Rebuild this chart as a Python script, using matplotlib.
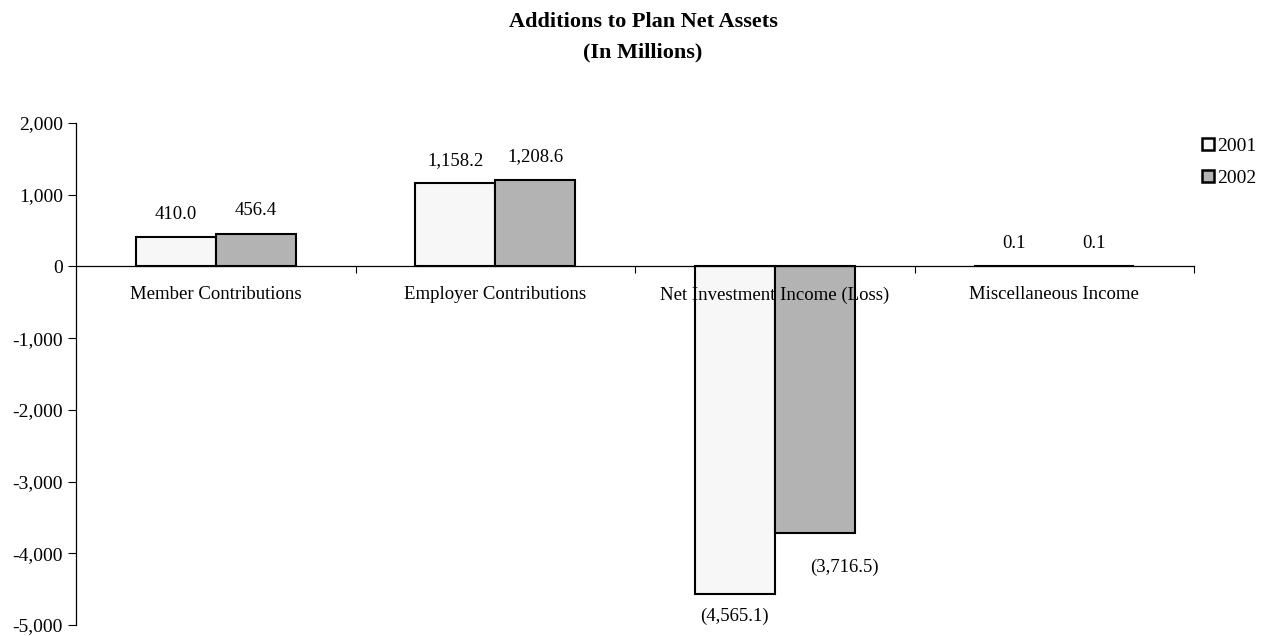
import matplotlib
matplotlib.use("Agg")
import matplotlib.pyplot as plt
from matplotlib.patches import Patch
from matplotlib.ticker import FuncFormatter, FixedLocator

plt.rcParams['font.family'] = ['Liberation Serif', 'DejaVu Serif']
plt.rcParams['axes.unicode_minus'] = False

categories = ["Member Contributions", "Employer Contributions",
              "Net Investment Income (Loss)", "Miscellaneous Income"]
series_names = ["2001", "2002"]
values_2001 = [410.0, 1158.2, -4565.1, 0.1]
values_2002 = [456.4, 1208.6, -3716.5, 0.1]
yticks = [-5000, -4000, -3000, -2000, -1000, 0, 1000, 2000]

colors = ["#f7f7f7", "#b3b3b3"]

fig = plt.figure(figsize=(12.71, 6.36), dpi=100)
ax = fig.add_axes([76/1271, 1-625/636, (1194-76)/1271, (625-123)/636])

width = 0.286
xs = list(range(len(categories)))
for k, (vals, col, name) in enumerate(zip([values_2001, values_2002], colors, series_names)):
    offs = (k - 0.5) * width
    ax.bar([x + offs for x in xs], vals, width=width, color=col,
           edgecolor="black", linewidth=1.5, label=name, zorder=2)
    for x, v in zip(xs, vals):
        txt = f"({abs(v):,.1f})" if v < 0 else f"{v:,.1f}"
        if v >= 0:
            dx, dy = 0, 16.5
        else:
            dx, dy = (0, -16) if k == 0 else (21.5, -25)
        ax.annotate(txt, xy=(x + offs, v), xytext=(dx, dy), textcoords="offset points",
                    ha="center", va="center", fontsize=13.5, zorder=4)

ax.set_xlim(-0.5, len(categories) - 0.5)
ax.set_ylim(-5000, 2000)
ax.yaxis.set_major_locator(FixedLocator(yticks))
ax.yaxis.set_major_formatter(FuncFormatter(lambda v, p: f"{v:,.0f}"))
ax.tick_params(axis='y', direction='out', length=5.5, width=0.8, labelsize=14, pad=4)
ax.set_xticks([i + 0.5 for i in range(len(categories))])
ax.set_xticklabels([])
ax.tick_params(axis='x', direction='out', length=5, width=0.8)

for s in ["top", "right"]:
    ax.spines[s].set_visible(False)
ax.spines["bottom"].set_position(("data", 0))
ax.spines["bottom"].set_zorder(3)
for s in ["left", "bottom"]:
    ax.spines[s].set_linewidth(0.9)
    ax.spines[s].set_color("black")

for x, c in zip(xs, categories):
    ax.annotate(c, xy=(x, 0), xytext=(0, -20.5), textcoords="offset points",
                ha="center", va="center", fontsize=13.5, zorder=5)

handles = [Patch(facecolor=col, edgecolor="black", linewidth=1.8, label=n)
           for col, n in zip(colors, series_names)]
fig.legend(handles=handles, loc="upper left", bbox_to_anchor=(1202/1271, 1-138/636),
           frameon=False, fontsize=14, handlelength=0.6, handleheight=0.6,
           handletextpad=0.2, labelspacing=0.75, borderpad=0, borderaxespad=0)

fig.text(643/1271, 1-22/636, "Additions to Plan Net Assets", ha="center", va="center",
         fontsize=16, fontweight="bold")
fig.text(643/1271, 1-52/636, "(In Millions)", ha="center", va="center",
         fontsize=16, fontweight="bold")

fig.savefig("out.png", dpi=100)
